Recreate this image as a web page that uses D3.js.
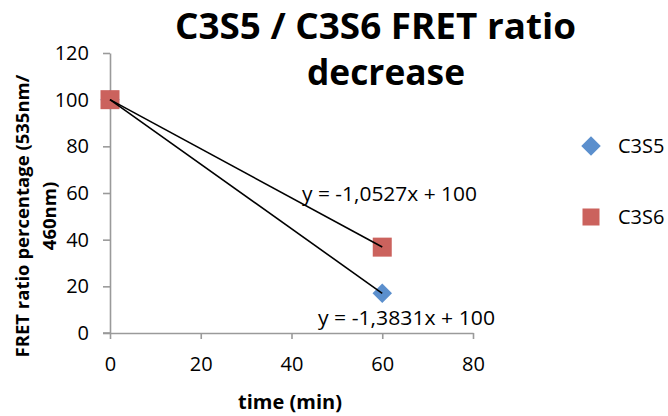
<!DOCTYPE html>
<html>
<head>
<meta charset="utf-8">
<script src="https://cdn.jsdelivr.net/npm/d3@7"></script>
<style>
  html, body { margin: 0; padding: 0; background: #fff; }
  svg { display: block; }
  text { font-family: "Open Sans", "DejaVu Sans", sans-serif; fill: #000; }
</style>
</head>
<body>
<svg id="chart" width="668" height="416"></svg>
<script>
// ---- data ----
const seriesNames = ["C3S5", "C3S6"];
const timeMin = [0, 60];
const c3s5Values = [100, 17.0];
const c3s6Values = [100, 36.8];
const trendSlopes = [-1.3831, -1.0527];
const trendIntercepts = [100, 100];
const trendLabels = ["y = -1,3831x + 100", "y = -1,0527x + 100"];
const xTicks = [0, 20, 40, 60, 80];
const yTicks = [0, 20, 40, 60, 80, 100, 120];
const titleLines = ["C3S5 / C3S6 FRET ratio", "decrease"];
const yTitleLines = ["FRET ratio percentage (535nm/", "460nm)"];
const xTitle = "time (min)";

const colors = ["#5B8FCD", "#CB625D"];

const svg = d3.select("#chart");
const x = d3.scaleLinear().domain([0, 80]).range([110, 473]);
const y = d3.scaleLinear().domain([0, 120]).range([333, 53]);

// axes
const axisColor = "#9a9a9a";
const yAxis = svg.append("g").attr("transform", `translate(${x(0)},0)`)
  .call(d3.axisLeft(y).tickValues(yTicks).tickSize(7).tickPadding(14).tickSizeOuter(0));
const xAxis = svg.append("g").attr("transform", `translate(0,${y(0)})`)
  .call(d3.axisBottom(x).tickValues(xTicks).tickSize(6).tickPadding(18).tickSizeOuter(0));
[yAxis, xAxis].forEach(g => {
  g.select(".domain").attr("stroke", axisColor).attr("stroke-width", 1.6);
  g.selectAll(".tick line").attr("stroke", axisColor).attr("stroke-width", 1.6);
  g.selectAll(".tick text").style("font-family", '"Open Sans", sans-serif')
    .style("font-size", "20px").attr("fill", "#000");
});
svg.append("line").attr("x1", x(0) - 7).attr("x2", x(0)).attr("y1", y(0)).attr("y2", y(0))
  .attr("stroke", axisColor).attr("stroke-width", 1.6);

// markers (C3S5 diamonds, C3S6 squares)
const diamond = d3.symbol().type(d3.symbolSquare).size(190);
svg.append("g").selectAll("path").data(timeMin.map((t, i) => [t, c3s5Values[i]]))
  .join("path")
  .attr("d", diamond)
  .attr("transform", d => `translate(${x(d[0])},${y(d[1])}) rotate(45)`)
  .attr("fill", colors[0]);
svg.append("g").selectAll("rect").data(timeMin.map((t, i) => [t, c3s6Values[i]]))
  .join("rect")
  .attr("x", d => x(d[0]) - 9.5).attr("y", d => y(d[1]) - 9.5)
  .attr("width", 19).attr("height", 19)
  .attr("fill", colors[1]);

// trendlines (drawn over markers)
[c3s5Values, c3s6Values].forEach((vals, i) => {
  const x0 = timeMin[0], x1 = timeMin[timeMin.length - 1];
  svg.append("line")
    .attr("x1", x(x0)).attr("y1", y(trendSlopes[i] * x0 + trendIntercepts[i]))
    .attr("x2", x(x1)).attr("y2", y(trendSlopes[i] * x1 + trendIntercepts[i]))
    .attr("stroke", "#000").attr("stroke-width", 1.6);
});

// trendline labels
svg.append("text").attr("x", 389.5).attr("y", 201).attr("text-anchor", "middle")
  .attr("textLength", 175).attr("lengthAdjust", "spacingAndGlyphs")
  .style("font-size", "20.5px").text(trendLabels[1]);
svg.append("text").attr("x", 406.5).attr("y", 325).attr("text-anchor", "middle")
  .attr("textLength", 177).attr("lengthAdjust", "spacingAndGlyphs")
  .style("font-size", "20.5px").text(trendLabels[0]);

// title
const titleCenters = [375.5, 386];
const titleBase = [39, 85];
const titleWidths = [401, 158];
titleLines.forEach((t, i) => {
  svg.append("text").attr("x", titleCenters[i]).attr("y", titleBase[i])
    .attr("text-anchor", "middle")
    .attr("textLength", titleWidths[i]).attr("lengthAdjust", "spacingAndGlyphs")
    .style("font-size", "36px").style("font-weight", "bold").text(t);
});

// y-axis title
const yTitleX = [29, 56];
yTitleLines.forEach((t, i) => {
  svg.append("text")
    .attr("transform", `translate(${yTitleX[i]},216) rotate(-90)`)
    .attr("text-anchor", "middle")
    .style("font-size", "18.5px").style("font-weight", "bold").text(t);
});

// x-axis title
svg.append("text").attr("x", 290).attr("y", 409).attr("text-anchor", "middle")
  .style("font-size", "20px").style("font-weight", "bold").text(xTitle);

// legend
const legendY = [146, 217];
const lg = svg.append("g");
lg.append("path").attr("d", diamond)
  .attr("transform", `translate(591,${legendY[0]}) rotate(45)`).attr("fill", colors[0]);
lg.append("rect").attr("x", 591 - 8.5).attr("y", legendY[1] - 8.5).attr("width", 17).attr("height", 17)
  .attr("fill", colors[1]);
seriesNames.forEach((n, i) => {
  lg.append("text").attr("x", 618).attr("y", legendY[i]).attr("dy", "0.35em")
    .style("font-size", "20px").text(n);
});
</script>
</body>
</html>
